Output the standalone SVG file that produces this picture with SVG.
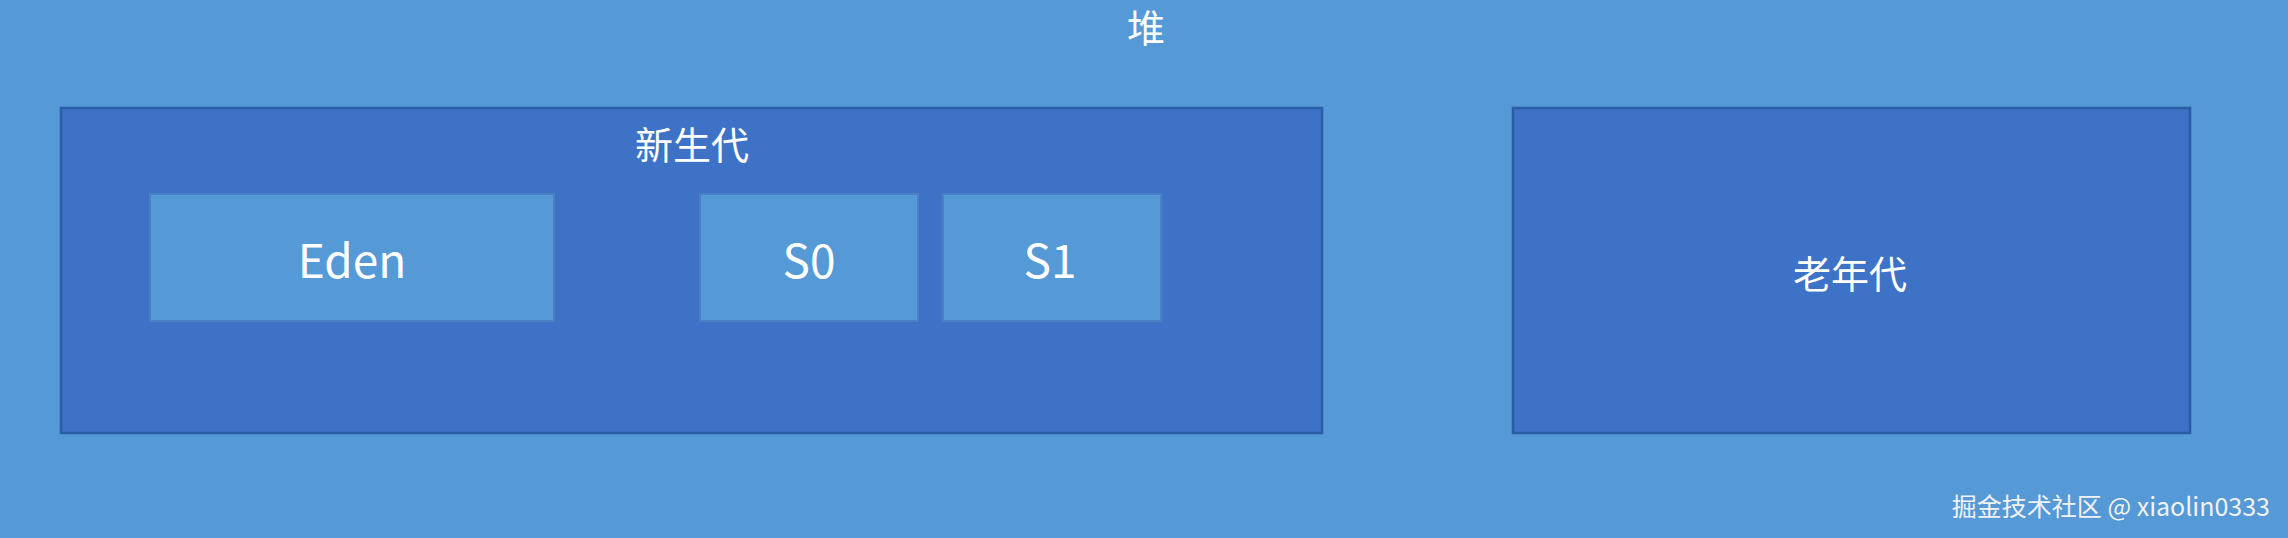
<svg xmlns="http://www.w3.org/2000/svg" width="2288" height="538" viewBox="0 0 2288 538">
<style>
.bg{fill:#5599D7}
.gen{fill:#3D72C6;stroke:#2B5DA6;stroke-width:2.5}
.cell{fill:#5599D7;stroke:#4A80C4;stroke-width:2}
.t{font-family:"Noto Sans CJK SC","Noto Sans",sans-serif;fill:#FFFFFF;text-anchor:middle;dominant-baseline:central}
.cjk{font-size:38px}
.lat{font-size:46px}
.wm{font-family:"Noto Sans CJK SC","Liberation Sans",sans-serif;font-size:25px;fill:#F2F2F2;text-anchor:end;dominant-baseline:central}
</style>
<rect class="bg" x="0" y="0" width="2288" height="538"/>
<g id="heap">
<text class="t cjk" x="1146" y="25">堆</text>
</g>
<g id="young">
<rect class="gen" x="61" y="108" width="1261" height="325"/>
<text class="t cjk" x="692" y="142">新生代</text>
</g>
<g id="eden">
<rect class="cell" x="150" y="194" width="404" height="127"/>
<text class="t lat" x="352" y="258">Eden</text>
</g>
<g id="s0">
<rect class="cell" x="700" y="194" width="218" height="127"/>
<text class="t lat" x="809" y="258">S0</text>
</g>
<g id="s1">
<rect class="cell" x="943" y="194" width="218" height="127"/>
<text class="t lat" x="1050" y="258">S1</text>
</g>
<g id="old">
<rect class="gen" x="1513" y="108" width="677" height="325"/>
<text class="t cjk" x="1850" y="271">老年代</text>
</g>
<g id="connectors"></g>
<text class="wm" x="2270" y="505">掘金技术社区 @ xiaolin0333</text>
</svg>
